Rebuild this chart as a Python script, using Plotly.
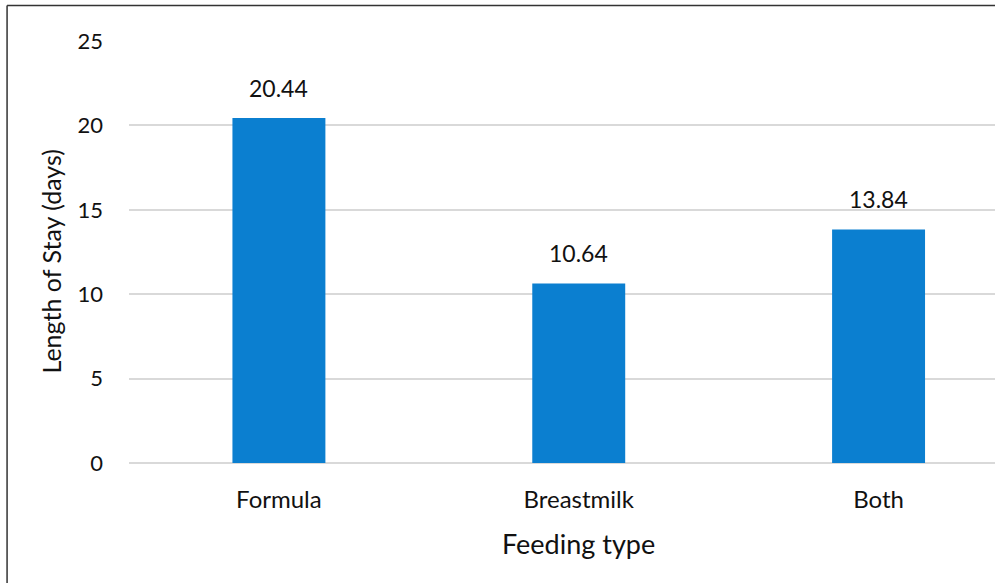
import plotly.graph_objects as go

# Mean length of stay by feeding type
feeding_types = ["Formula", "Breastmilk", "Both"]
length_of_stay = [20.44, 10.64, 13.84]
y_ticks = [0, 5, 10, 15, 20, 25]

BAR_COLOR = "#0b7fd0"
GRID_COLOR = "#d9d9d9"
TEXT_COLOR = "#111111"
FONT = "Lato, Carlito, 'Open Sans', sans-serif"

W, H = 995, 583
ML, MR, MT, MB = 128.5, 0, 41, 120
plot_w = W - ML - MR
plot_h = H - MT - MB


def px_x(px):
    return (px - ML) / plot_w


def px_y(py):
    return (H - MB - py) / plot_h


fig = go.Figure(
    go.Bar(
        x=feeding_types,
        y=length_of_stay,
        width=0.31,
        marker=dict(color=BAR_COLOR, line=dict(width=0)),
        hoverinfo="x+y",
    )
)

# value labels above each bar
for cat, val in zip(feeding_types, length_of_stay):
    fig.add_annotation(
        x=cat, y=val, text=f"{val:.2f}", showarrow=False,
        yanchor="bottom", yshift=14,
        font=dict(family=FONT, size=23, color=TEXT_COLOR),
    )

# axis titles
fig.add_annotation(
    xref="paper", yref="paper", x=px_x(50), y=px_y(262),
    text="Length of Stay (days)", textangle=-90, showarrow=False,
    xanchor="center", yanchor="middle",
    font=dict(family=FONT, size=25, color=TEXT_COLOR),
)
fig.add_annotation(
    xref="paper", yref="paper", x=px_x(578), y=px_y(543),
    text="Feeding type", showarrow=False,
    xanchor="center", yanchor="middle",
    font=dict(family=FONT, size=27, color=TEXT_COLOR),
)

# frame along the top and left edges
frame = dict(type="line", xref="paper", yref="paper",
             line=dict(color="#333333", width=1.5), layer="above")
fig.add_shape(x0=px_x(6.5), x1=px_x(W), y0=px_y(5.5), y1=px_y(5.5), **frame)
fig.add_shape(x0=px_x(6.5), x1=px_x(6.5), y0=px_y(5.5), y1=px_y(H), **frame)

fig.update_layout(
    width=W, height=H,
    margin=dict(l=ML, r=MR, t=MT, b=MB, pad=0),
    paper_bgcolor="white", plot_bgcolor="white",
    showlegend=False,
    font=dict(family=FONT, color=TEXT_COLOR),
    xaxis=dict(
        range=[-0.5, -0.5 + plot_w / 300.0],
        showgrid=False, zeroline=False, showline=False, ticks="",
        tickfont=dict(family=FONT, size=24, color=TEXT_COLOR),
        ticklabelstandoff=20,
        fixedrange=True,
    ),
    yaxis=dict(
        range=[0, 25], tickvals=y_ticks,
        showgrid=True, gridcolor=GRID_COLOR, gridwidth=2,
        zeroline=True, zerolinecolor=GRID_COLOR, zerolinewidth=2,
        showline=False, ticks="",
        tickfont=dict(family=FONT, size=22, color=TEXT_COLOR),
        ticklabelstandoff=25,
        fixedrange=True,
    ),
)

fig.write_html("out.html", config={"displayModeBar": False})
